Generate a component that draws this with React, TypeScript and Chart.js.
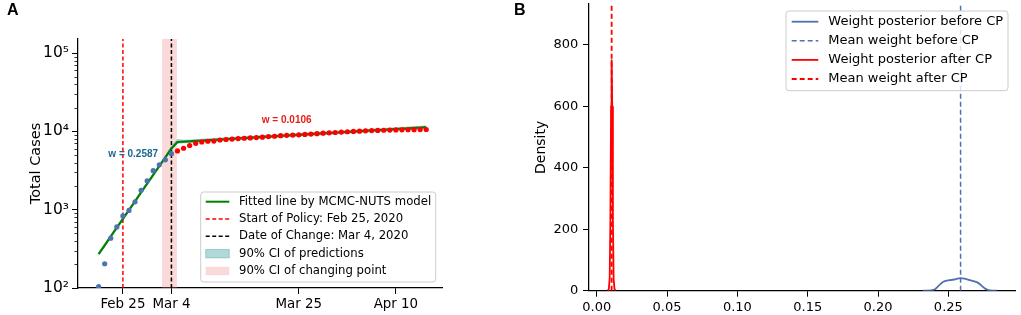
import React, { useEffect, useRef } from 'react';
import { Chart, registerables } from 'chart.js';

Chart.register(...registerables);
Chart.defaults.font.family = "'DejaVu Sans', sans-serif";
Chart.defaults.color = '#000';

// ---------- Panel A data (x = days after Feb 25, 2020) ----------
const dayTicks = [0, 8, 29, 45];
const dayTickLabels = ['Feb 25', 'Mar 4', 'Mar 25', 'Apr 10'];

const beforeDays = [-4, -3, -2, -1, 0, 1, 2, 3, 4, 5, 6, 7, 8];
const beforeCases = [104, 204, 433, 602, 833, 977, 1261, 1766, 2337, 3150, 3736, 4335, 5186];

const afterDays = [9, 10, 11, 12, 13, 14, 15, 16, 17, 18, 19, 20, 21, 22, 23, 24, 25, 26, 27, 28, 29, 30, 31, 32, 33, 34, 35, 36, 37, 38, 39, 40, 41, 42, 43, 44, 45, 46, 47, 48, 49, 50];
const afterCases = [5621, 6088, 6593, 7041, 7314, 7478, 7513, 7755, 7869, 7979, 8086, 8162, 8236, 8320, 8413, 8565, 8652, 8799, 8897, 8961, 9037, 9137, 9241, 9332, 9478, 9583, 9661, 9786, 9887, 9976, 10062, 10156, 10237, 10284, 10331, 10384, 10423, 10450, 10480, 10512, 10537, 10564];

const fitDays = [-4, -3, -2, -1, 0, 1, 2, 3, 4, 5, 6, 7, 8, 9, 10, 11, 12, 13, 14, 15, 16, 17, 18, 19, 20, 21, 22, 23, 24, 25, 26, 27, 28, 29, 30, 31, 32, 33, 34, 35, 36, 37, 38, 39, 40, 41, 42, 43, 44, 45, 46, 47, 48, 49, 50];
const fitCases = [271, 351, 455, 589, 763, 988, 1280, 1658, 2148, 2782, 3604, 4668, 6046, 7310, 7388, 7467, 7546, 7627, 7708, 7790, 7873, 7957, 8042, 8128, 8214, 8302, 8390, 8480, 8570, 8662, 8754, 8848, 8942, 9037, 9134, 9231, 9329, 9429, 9529, 9631, 9733, 9837, 9942, 10048, 10155, 10263, 10372, 10483, 10594, 10707, 10821, 10937, 11053, 11171, 11290];
const fitLower = [260, 337, 437, 565, 732, 948, 1229, 1592, 2062, 2671, 3460, 4481, 5804, 7018, 7092, 7168, 7244, 7322, 7400, 7478, 7558, 7639, 7720, 7803, 7885, 7970, 8054, 8141, 8227, 8316, 8404, 8494, 8584, 8676, 8769, 8862, 8956, 9052, 9148, 9246, 9344, 9444, 9544, 9646, 9749, 9852, 9957, 10064, 10170, 10279, 10388, 10500, 10611, 10724, 10838];
const fitUpper = [283, 367, 475, 616, 797, 1032, 1338, 1733, 2245, 2907, 3766, 4878, 6500, 7900, 7750, 7800, 7886, 7970, 8055, 8141, 8227, 8315, 8404, 8494, 8584, 8676, 8768, 8862, 8956, 9052, 9148, 9246, 9344, 9444, 9545, 9646, 9749, 9853, 9958, 10064, 10171, 10280, 10389, 10500, 10612, 10725, 10839, 10955, 11071, 11189, 11308, 11429, 11550, 11674, 11798];

const policyDay = 0;
const changeDay = 8;
const changeDayCI = [6.45, 8.9];

const casesMin = 100;
const casesMax = 151000;
const casesDecades = [100, 1000, 10000, 100000];
const casesDecadeLabels = ['10²', '10³', '10⁴', '10⁵'];
const minorMantissas = [2, 3, 4, 5, 6, 7, 8, 9];

const annotBefore = { day: 1.7, cases: 5130, text: 'w = 0.2587' };
const annotAfter = { day: 27.0, cases: 13930, text: 'w = 0.0106' };

const legendALabels = [
  'Fitted line by MCMC-NUTS model',
  'Start of Policy: Feb 25, 2020',
  'Date of Change: Mar 4, 2020',
  '90% CI of predictions',
  '90% CI of changing point',
];

// ---------- Panel B data ----------
const weightTicks = [0, 0.05, 0.1, 0.15, 0.2, 0.25];
const weightTickLabels = ['0.00', '0.05', '0.10', '0.15', '0.20', '0.25'];
const densityTicks = [0, 200, 400, 600, 800];
const densityMax = 933;

const meanBefore = 0.2587;
const meanAfter = 0.0106;

const kdeBeforeX = [0.232, 0.236, 0.2385, 0.2405, 0.2425, 0.2445, 0.2465, 0.249, 0.2525, 0.2555, 0.2585, 0.2615, 0.2645, 0.268, 0.2705, 0.2725, 0.2745, 0.2765, 0.2785, 0.281, 0.2845];
const kdeBeforeY = [0, 0.3, 1.5, 5, 13, 22, 29, 33, 35, 38, 41, 39, 35, 31, 27, 21, 13, 6, 2, 0.4, 0];

const kdeAfterX = [0.0078, 0.0086, 0.0092, 0.0097, 0.0102, 0.0106, 0.011, 0.0115, 0.012, 0.0126, 0.0134];
const kdeAfterY = [0, 6, 40, 230, 600, 752, 600, 230, 40, 6, 0];

const legendBLabels = [
  'Weight posterior before CP',
  'Mean weight before CP',
  'Weight posterior after CP',
  'Mean weight after CP',
];

// ---------- helpers ----------
const zip = (xs: number[], ys: number[]) => xs.map((x, i) => ({ x, y: ys[i] }));

const BLUE = '#4c72b0';
const RED = '#ff0000';
const GREEN = '#008000';
const TEAL_A = 'rgba(0,128,128,0.3)';
const PINK_A = 'rgba(240,128,128,0.3)';

type LegendRow = {
  label: string;
  kind: 'line' | 'patch';
  color: string;
  dash?: number[];
  width?: number;
  edge?: string;
};

function roundRect(ctx: CanvasRenderingContext2D, x: number, y: number, w: number, h: number, r: number) {
  ctx.beginPath();
  ctx.moveTo(x + r, y);
  ctx.lineTo(x + w - r, y);
  ctx.quadraticCurveTo(x + w, y, x + w, y + r);
  ctx.lineTo(x + w, y + h - r);
  ctx.quadraticCurveTo(x + w, y + h, x + w - r, y + h);
  ctx.lineTo(x + r, y + h);
  ctx.quadraticCurveTo(x, y + h, x, y + h - r);
  ctx.lineTo(x, y + r);
  ctx.quadraticCurveTo(x, y, x + r, y);
  ctx.closePath();
}

function drawLegend(
  ctx: CanvasRenderingContext2D,
  box: { x: number; y: number; w: number; h: number },
  rows: LegendRow[],
  layout: { firstRow: number; rowH: number; sx0: number; sx1: number; tx: number; font: string; patchH: number }
) {
  ctx.save();
  roundRect(ctx, box.x, box.y, box.w, box.h, 3);
  ctx.fillStyle = 'rgba(255,255,255,0.8)';
  ctx.fill();
  ctx.strokeStyle = '#cccccc';
  ctx.lineWidth = 1;
  ctx.stroke();
  ctx.font = layout.font;
  ctx.textBaseline = 'middle';
  ctx.textAlign = 'left';
  rows.forEach((r, i) => {
    const cy = box.y + layout.firstRow + i * layout.rowH;
    const x0 = box.x + layout.sx0;
    const x1 = box.x + layout.sx1;
    if (r.kind === 'line') {
      ctx.beginPath();
      ctx.setLineDash(r.dash || []);
      ctx.strokeStyle = r.color;
      ctx.lineWidth = r.width || 1.5;
      ctx.moveTo(x0, cy);
      ctx.lineTo(x1, cy);
      ctx.stroke();
      ctx.setLineDash([]);
    } else {
      ctx.fillStyle = r.color;
      ctx.fillRect(x0, cy - layout.patchH / 2, x1 - x0, layout.patchH);
      if (r.edge) {
        ctx.strokeStyle = r.edge;
        ctx.lineWidth = 1;
        ctx.strokeRect(x0, cy - layout.patchH / 2, x1 - x0, layout.patchH);
      }
    }
    ctx.fillStyle = '#000';
    ctx.fillText(r.label, box.x + layout.tx, cy);
  });
  ctx.restore();
}

const noPadFitX = (h: number) => (s: any) => {
  s.height = h;
  s.paddingLeft = 0;
  s.paddingRight = 0;
};
const noPadFitY = (w: number) => (s: any) => {
  s.width = w;
  s.paddingTop = 0;
  s.paddingBottom = 0;
};

export default function App() {
  const refA = useRef<HTMLCanvasElement>(null);
  const refB = useRef<HTMLCanvasElement>(null);

  useEffect(() => {
    if (!refA.current || !refB.current) return;

    const panelAPlugin = {
      id: 'panelA',
      afterDraw(chart: any) {
        const ctx: CanvasRenderingContext2D = chart.ctx;
        const ys = chart.scales.y;
        const xs = chart.scales.x;
        // minor ticks of log axis
        ctx.save();
        ctx.strokeStyle = '#000';
        ctx.lineWidth = 0.8;
        casesDecades.forEach((d) => {
          minorMantissas.forEach((m) => {
            const v = d * m;
            if (v > casesMax) return;
            const py = Math.round(ys.getPixelForValue(v)) + 0.5;
            ctx.beginPath();
            ctx.moveTo(ys.right - 3.5, py);
            ctx.lineTo(ys.right, py);
            ctx.stroke();
          });
        });
        ctx.restore();

        // annotations
        ctx.save();
        ctx.font = "bold 10px 'Liberation Sans', Arial, sans-serif";
        ctx.textAlign = 'center';
        ctx.textBaseline = 'middle';
        ctx.fillStyle = '#1a6a8e';
        ctx.fillText(annotBefore.text, xs.getPixelForValue(annotBefore.day), ys.getPixelForValue(annotBefore.cases));
        ctx.fillStyle = '#e3201b';
        ctx.fillText(annotAfter.text, xs.getPixelForValue(annotAfter.day), ys.getPixelForValue(annotAfter.cases));
        ctx.restore();

        // panel letter
        ctx.save();
        ctx.font = "bold 16px 'Liberation Sans', Arial, sans-serif";
        ctx.fillStyle = '#000';
        ctx.textBaseline = 'alphabetic';
        ctx.fillText('A', 7, 15);
        ctx.restore();

        // legend
        const ca = chart.chartArea;
        const w = 235;
        const h = 90;
        drawLegend(
          ctx,
          { x: ca.right - 6.3 - w, y: ca.bottom - 6 - h, w, h },
          [
            { label: legendALabels[0], kind: 'line', color: GREEN, width: 2 },
            { label: legendALabels[1], kind: 'line', color: RED, dash: [4, 2.5], width: 1.5 },
            { label: legendALabels[2], kind: 'line', color: '#000', dash: [4, 2.5], width: 1.5 },
            { label: legendALabels[3], kind: 'patch', color: TEAL_A, edge: TEAL_A },
            { label: legendALabels[4], kind: 'patch', color: PINK_A },
          ],
          { firstRow: 9.7, rowH: 17.33, sx0: 5, sx1: 28.6, tx: 38.3, font: "11.7px 'DejaVu Sans'", patchH: 8.3 }
        );
      },
    };

    const panelBPlugin = {
      id: 'panelB',
      afterDraw(chart: any) {
        const ctx: CanvasRenderingContext2D = chart.ctx;
        ctx.save();
        ctx.font = "bold 16px 'Liberation Sans', Arial, sans-serif";
        ctx.fillStyle = '#000';
        ctx.fillText('B', 14, 15);
        ctx.restore();
        const ca = chart.chartArea;
        const w = 222;
        const h = 79.7;
        drawLegend(
          ctx,
          { x: ca.right - 7 - w, y: ca.top + 7, w, h },
          [
            { label: legendBLabels[0], kind: 'line', color: BLUE, width: 1.8 },
            { label: legendBLabels[1], kind: 'line', color: BLUE, dash: [5, 3], width: 1.5 },
            { label: legendBLabels[2], kind: 'line', color: RED, width: 1.8 },
            { label: legendBLabels[3], kind: 'line', color: RED, dash: [5, 3], width: 1.8 },
          ],
          { firstRow: 10.7, rowH: 19.1, sx0: 5.7, sx1: 32.3, tx: 42.3, font: "13px 'DejaVu Sans'", patchH: 8 }
        );
      },
    };

    const chartA = new Chart(refA.current, {
      type: 'scatter',
      data: {
        datasets: [
          {
            type: 'scatter',
            data: zip(afterDays, afterCases),
            pointRadius: 2.6,
            pointBackgroundColor: RED,
            pointBorderWidth: 0,
          } as any,
          {
            type: 'scatter',
            data: zip(beforeDays, beforeCases),
            pointRadius: 2.6,
            pointBackgroundColor: BLUE,
            pointBorderWidth: 0,
          },
          {
            type: 'line',
            data: zip(fitDays, fitCases),
            borderColor: GREEN,
            borderWidth: 2.2,
            pointRadius: 0,
            fill: false,
          },
          {
            type: 'line',
            data: zip(fitDays, fitLower),
            borderColor: TEAL_A,
            borderWidth: 0.6,
            backgroundColor: TEAL_A,
            pointRadius: 0,
            fill: '+1',
          },
          {
            type: 'line',
            data: zip(fitDays, fitUpper),
            borderColor: TEAL_A,
            borderWidth: 0.6,
            pointRadius: 0,
            fill: false,
          },
          {
            type: 'line',
            data: [
              { x: changeDay, y: casesMin },
              { x: changeDay, y: casesMax },
            ],
            borderColor: '#000',
            borderDash: [4, 2.5],
            borderWidth: 1.5,
            pointRadius: 0,
            fill: false,
          },
          {
            type: 'line',
            data: [
              { x: policyDay, y: casesMin },
              { x: policyDay, y: casesMax },
            ],
            borderColor: RED,
            borderDash: [4, 2.5],
            borderWidth: 1.5,
            pointRadius: 0,
            fill: false,
          },
          {
            type: 'line',
            data: [
              { x: changeDayCI[0], y: casesMax },
              { x: changeDayCI[1], y: casesMax },
            ],
            borderWidth: 0,
            borderColor: 'transparent',
            backgroundColor: PINK_A,
            pointRadius: 0,
            fill: 'start',
          },
        ],
      },
      options: {
        responsive: false,
        animation: false,
        events: [],
        layout: { padding: { left: 0, top: 39, right: 58, bottom: 0 } },
        plugins: { legend: { display: false }, tooltip: { enabled: false } },
        scales: {
          x: {
            type: 'linear',
            min: -7.4,
            max: 52.6,
            afterBuildTicks: (s: any) => {
              s.ticks = dayTicks.map((v) => ({ value: v }));
            },
            afterFit: noPadFitX(27),
            ticks: {
              autoSkip: false,
              maxRotation: 0,
              padding: 2,
              font: { size: 13.4 },
              color: '#000',
              callback: (v: any) => {
                const i = dayTicks.indexOf(Number(v));
                return i >= 0 ? dayTickLabels[i] : '';
              },
            },
            grid: { drawOnChartArea: false, drawTicks: true, tickLength: 6, tickColor: '#000', tickWidth: 1 },
            border: { display: true, color: '#000', width: 1.25 },
          },
          y: {
            type: 'logarithmic',
            min: casesMin,
            max: casesMax,
            afterBuildTicks: (s: any) => {
              s.ticks = casesDecades.map((v) => ({ value: v, major: true }));
            },
            afterFit: noPadFitY(78),
            ticks: {
              autoSkip: false,
              padding: 3,
              font: { size: 15.5 },
              color: '#000',
              callback: (v: any) => {
                const i = casesDecades.indexOf(Number(v));
                return i >= 0 ? casesDecadeLabels[i] : '';
              },
            },
            title: { display: true, text: 'Total Cases', font: { size: 14.5 }, color: '#000', padding: { top: 27.6, bottom: 0 } },
            grid: { drawOnChartArea: false, drawTicks: true, tickLength: 6, tickColor: '#000', tickWidth: 1 },
            border: { display: true, color: '#000', width: 1.25 },
          },
        },
      },
      plugins: [panelAPlugin],
    } as any);

    const chartB = new Chart(refB.current, {
      type: 'scatter',
      data: {
        datasets: [
          {
            type: 'line',
            data: [
              { x: meanAfter, y: 0 },
              { x: meanAfter, y: densityMax },
            ],
            borderColor: RED,
            borderDash: [5, 3],
            borderWidth: 1.8,
            pointRadius: 0,
            fill: false,
          } as any,
          {
            type: 'line',
            data: zip(kdeAfterX, kdeAfterY),
            borderColor: RED,
            borderWidth: 1.8,
            pointRadius: 0,
            fill: false,
          },
          {
            type: 'line',
            data: [
              { x: meanBefore, y: 0 },
              { x: meanBefore, y: densityMax },
            ],
            borderColor: BLUE,
            borderDash: [5, 3],
            borderWidth: 1.5,
            pointRadius: 0,
            fill: false,
          },
          {
            type: 'line',
            data: zip(kdeBeforeX, kdeBeforeY),
            borderColor: BLUE,
            borderWidth: 1.8,
            pointRadius: 0,
            fill: false,
            cubicInterpolationMode: 'monotone',
          },
        ],
      },
      options: {
        responsive: false,
        animation: false,
        events: [],
        layout: { padding: { left: 0, top: 4, right: 6, bottom: 0 } },
        plugins: { legend: { display: false }, tooltip: { enabled: false } },
        scales: {
          x: {
            type: 'linear',
            min: -0.0055,
            max: 0.2974,
            afterBuildTicks: (s: any) => {
              s.ticks = weightTicks.map((v) => ({ value: v }));
            },
            afterFit: noPadFitX(24.3),
            ticks: {
              autoSkip: false,
              maxRotation: 0,
              padding: 3,
              font: { size: 13 },
              color: '#000',
              callback: (v: any) => {
                const i = weightTicks.indexOf(Number(v));
                return i >= 0 ? weightTickLabels[i] : '';
              },
            },
            grid: { drawOnChartArea: false, drawTicks: true, tickLength: 6, tickColor: '#000', tickWidth: 1 },
            border: { display: true, color: '#000', width: 1.25 },
          },
          y: {
            type: 'linear',
            min: 0,
            max: densityMax,
            afterBuildTicks: (s: any) => {
              s.ticks = densityTicks.map((v) => ({ value: v }));
            },
            afterFit: noPadFitY(89),
            ticks: {
              autoSkip: false,
              padding: 4.7,
              font: { size: 13 },
              color: '#000',
              callback: (v: any) => String(v),
            },
            title: { display: true, text: 'Density', font: { size: 14 }, color: '#000', padding: { top: 33.3, bottom: 0 } },
            grid: { drawOnChartArea: false, drawTicks: true, tickLength: 6, tickColor: '#000', tickWidth: 1 },
            border: { display: true, color: '#000', width: 1.25 },
          },
        },
      },
      plugins: [panelBPlugin],
    } as any);

    return () => {
      chartA.destroy();
      chartB.destroy();
    };
  }, []);

  return (
    <div style={{ position: 'absolute', left: 0, top: 0, width: 1021, height: 315, background: '#fff', overflow: 'hidden' }}>
      <canvas ref={refA} width={500} height={315} style={{ position: 'absolute', left: 0, top: 0, width: 500, height: 315 }} />
      <canvas ref={refB} width={521} height={315} style={{ position: 'absolute', left: 500, top: 0, width: 521, height: 315 }} />
    </div>
  );
}
